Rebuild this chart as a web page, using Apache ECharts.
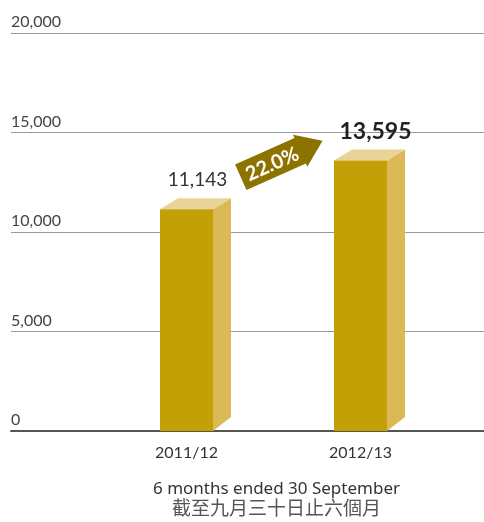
<!DOCTYPE html>
<html>
<head>
<meta charset="utf-8">
<script src="https://cdn.jsdelivr.net/npm/echarts@6/dist/echarts.min.js"></script>
<style>
html,body{margin:0;padding:0;background:#fff;}
#main{width:484px;height:522px;}
</style>
</head>
<body>
<div id="main"></div>
<script>
var chart = echarts.init(document.getElementById("main"));

var categories = ['2011/12', '2012/13'];
var values = [11143, 13595];
var growth = '22.0%';
var yTicks = [0, 5000, 10000, 15000, 20000];
var footerEn = '6 months ended 30 September';
var footerZh = '截至九月三十日止六個月';

var FONT = 'Lato, "Noto Sans", sans-serif';

function fmt(v) {
	return v.toString().replace(/\B(?=(\d{3})+(?!\d))/g, ',');
}

option = {
	backgroundColor: '#fff',
	animation: false,
	grid: [
		// gridlines full width
		{ left: 11, right: 0, top: 33, bottom: 91 },
		// bars
		{ left: 99.5, right: 36.5, top: 33, bottom: 91 }
	],
	xAxis: [{
		gridIndex: 0,
		type: 'value',
		min: 0, max: 1,
		axisLine: { show: true, lineStyle: { color: '#555', width: 2 } },
		axisTick: { show: false },
		axisLabel: { show: false },
		splitLine: { show: false }
	}, {
		gridIndex: 1,
		type: 'category',
		data: categories,
		axisLine: { show: false },
		axisTick: { show: false },
		axisLabel: { color: '#333', fontSize: 16, fontFamily: FONT, margin: 14 }
	}],
	yAxis: [{
		gridIndex: 0,
		type: 'value',
		min: yTicks[0],
		max: yTicks[yTicks.length - 1],
		interval: 5000,
		axisLine: { show: false },
		axisTick: { show: false },
		axisLabel: {
			inside: true,
			margin: 0,
			align: 'left',
			verticalAlign: 'bottom',
			padding: [0, 0, 3, 0],
			color: '#444',
			fontSize: 16,
			fontFamily: FONT,
			formatter: function (v) { return fmt(v); }
		},
		splitLine: { lineStyle: { color: '#999', width: 1 } }
	}, {
		gridIndex: 1,
		type: 'value',
		min: yTicks[0],
		max: yTicks[yTicks.length - 1],
		show: false
	}],
	series: [{
		type: 'custom',
		xAxisIndex: 1,
		yAxisIndex: 1,
		data: values.map(function (v, i) { return [i, v]; }),
		encode: { x: 0, y: 1 },
		renderItem: function (params, api) {
			var idx = api.value(0), v = api.value(1);
			var top = api.coord([idx, v]);
			var base = api.coord([idx, 0]);
			var w = 53, dx = 18, dyT = 11, dyB = 14;
			var x0 = top[0] - w / 2, x1 = top[0] + w / 2;
			var last = idx === values.length - 1;
			return {
				type: 'group',
				children: [{
					type: 'polygon',
					shape: { points: [[x1, top[1]], [x1 + dx, top[1] - dyT], [x1 + dx, base[1] - dyB], [x1, base[1]]] },
					style: { fill: '#DBB957' }
				}, {
					type: 'polygon',
					shape: { points: [[x0, top[1]], [x0 + dx, top[1] - dyT], [x1 + dx, top[1] - dyT], [x1, top[1]]] },
					style: { fill: '#E8D498' }
				}, {
					type: 'rect',
					shape: { x: x0, y: top[1], width: w, height: base[1] - top[1] },
					style: { fill: '#C4A007' }
				}, {
					type: 'text',
					x: top[0] + (last ? 15 : 11),
					y: top[1] - 29,
					style: {
						text: fmt(v),
						align: 'center',
						verticalAlign: 'middle',
						fill: last ? '#222' : '#333',
						fontSize: last ? 23 : 19,
						fontWeight: last ? 'bold' : 'normal',
						fontFamily: FONT
					}
				}]
			};
		}
	}],
	graphic: [{
		type: 'group',
		x: 240.8,
		y: 177.2,
		rotation: 0.42,
		children: [{
			type: 'polygon',
			shape: { points: [[0, -14], [65, -14], [65, -17.5], [89.5, 0], [65, 17.5], [65, 14], [0, 14]] },
			style: { fill: '#8C7300' }
		}, {
			type: 'text',
			x: 34,
			y: 1,
			style: {
				text: growth,
				align: 'center',
				verticalAlign: 'middle',
				fill: '#fff',
				fontSize: 20,
				fontWeight: 'bold',
				fontFamily: FONT
			}
		}]
	}, {
		type: 'text',
		x: 276.5,
		y: 489,
		style: {
			text: footerEn,
			align: 'center',
			verticalAlign: 'middle',
			fill: '#333',
			fontSize: 17,
			fontFamily: '"Noto Sans", sans-serif'
		}
	}, {
		type: 'text',
		x: 276.5,
		y: 508,
		style: {
			text: footerZh,
			align: 'center',
			verticalAlign: 'middle',
			fill: '#555',
			fontSize: 19,
			fontFamily: '"Noto Sans CJK TC", sans-serif'
		}
	}]
};
chart.setOption(option);
</script>
</body>
</html>
